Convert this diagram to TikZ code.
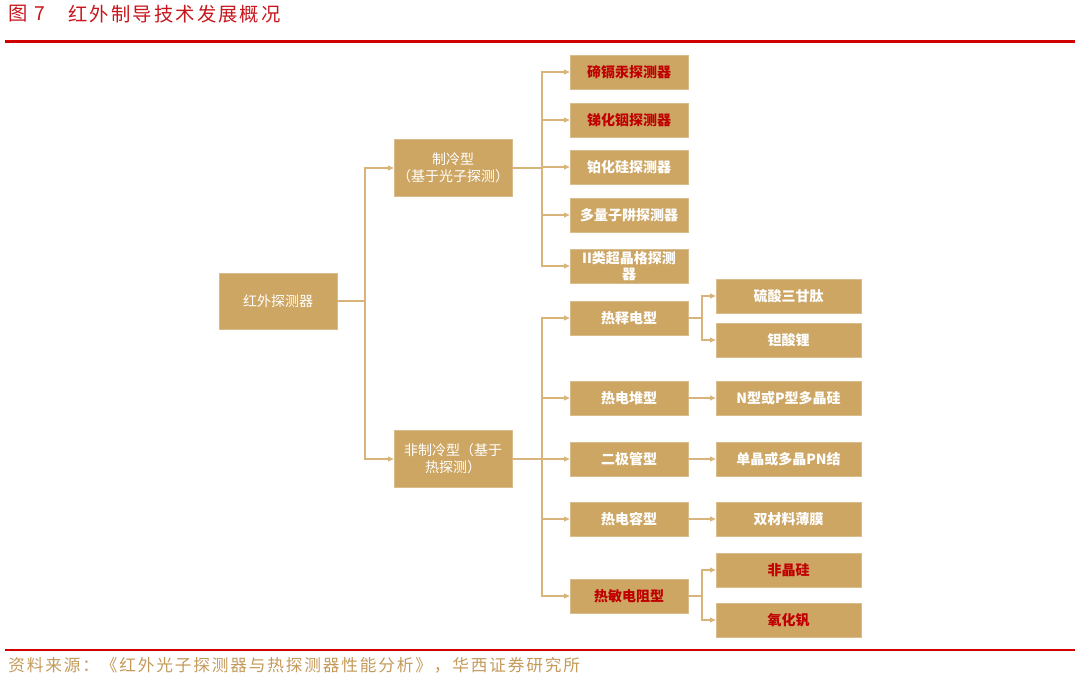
\documentclass[tikz,border=0pt]{standalone}
\usepackage{fontspec}
\setmainfont{Noto Sans CJK SC}
\newfontfamily\spacedfont[LetterSpace=11]{Noto Sans CJK SC}
\usetikzlibrary{arrows.meta}
\definecolor{boxc}{RGB}{205,166,100}
\definecolor{linec}{RGB}{216,180,122}
\definecolor{redt}{RGB}{192,0,0}
\definecolor{titler}{RGB}{200,22,29}
\definecolor{ruler}{RGB}{208,0,0}
\definecolor{srcc}{RGB}{196,154,90}
\begin{document}
\begin{tikzpicture}[x=0.75pt,y=-0.75pt,
  box/.style={fill=boxc, draw=boxc!75!white, line width=0.4pt, text=white,
    font=\fontsize{10.5}{13}\selectfont, align=center, inner sep=0pt},
  boxb/.style={box, font=\fontsize{10.5}{13}\selectfont\bfseries},
  colb/.style={box, minimum width=88.5pt, minimum height=42.75pt},
  colc/.style={boxb, minimum width=88.5pt, minimum height=25.5pt},
  cold/.style={boxb, minimum width=108.75pt, minimum height=25.5pt},
  redtext/.style={text=redt},
  arr/.style={draw=linec, line width=0.9pt, -{Triangle[length=4.2pt,width=3.6pt]}},
  ln/.style={draw=linec, line width=0.9pt}
]
\useasboundingbox (0,0) rectangle (1080,679);
% title
\node[anchor=west, text=titler, font=\spacedfont\fontsize{14.5}{16}\selectfont, inner sep=0pt] (fig) at (8,14) {图 7};
\node[anchor=west, text=titler, font=\spacedfont\fontsize{14.5}{16}\selectfont, inner sep=0pt] (title) at (68,14) {红外制导技术发展概况};
\draw[ruler, line width=2.25pt] (5,41) -- (1075,41);
% nodes
\node[box, minimum width=88.5pt, minimum height=42pt] (root) at (278,301) {红外探测器};
\node[colb] (cool) at (453,168) {制冷型\\（基于光子探测）};
\node[colb] (uncool) at (453,459) {非制冷型（基于\\热探测）};
\node[colc, redtext] (a1) at (629,72) {碲镉汞探测器};
\node[colc, redtext] (a2) at (629,120) {锑化铟探测器};
\node[colc] (a3) at (629,167) {铂化硅探测器};
\node[colc] (a4) at (629,215) {多量子阱探测器};
\node[colc, font=\fontsize{10.5}{12}\selectfont\bfseries] (a5) at (629,266) {II类超晶格探测\\器};
\node[colc] (b1) at (629,318) {热释电型};
\node[colc] (b2) at (629,398) {热电堆型};
\node[colc] (b3) at (629,459) {二极管型};
\node[colc] (b4) at (629,519) {热电容型};
\node[colc, redtext] (b5) at (629,596) {热敏电阻型};
\node[cold] (c1) at (788.5,296) {硫酸三甘肽};
\node[cold] (c2) at (788.5,340) {钽酸锂};
\node[cold] (c3) at (788.5,398) {N型或P型多晶硅};
\node[cold] (c4) at (788.5,459) {单晶或多晶PN结};
\node[cold] (c5) at (788.5,519) {双材料薄膜};
\node[cold, redtext] (c6) at (788.5,570) {非晶硅};
\node[cold, redtext] (c7) at (788.5,620) {氧化钒};
% branch points
\coordinate (r1) at (365,301);
\coordinate (k1) at (542,168);
\coordinate (k2) at (542,459);
\coordinate (p1) at (702,318);
\coordinate (p2) at (702,596);
% connectors
\draw[ln] (root.east) -- (r1);
\draw[arr] (r1) |- (cool.west);
\draw[arr] (r1) |- (uncool.west);
\draw[ln] (cool.east) -- (k1);
\foreach \n in {a1,a2,a3,a4,a5} \draw[arr] (k1) |- (\n.west);
\draw[ln] (uncool.east) -- (k2);
\foreach \n in {b1,b2,b3,b4,b5} \draw[arr] (k2) |- (\n.west);
\draw[ln] (b1.east) -- (p1);
\draw[arr] (p1) |- (c1.west);
\draw[arr] (p1) |- (c2.west);
\draw[arr] (b2.east) -- (c3.west);
\draw[arr] (b3.east) -- (c4.west);
\draw[arr] (b4.east) -- (c5.west);
\draw[ln] (b5.east) -- (p2);
\draw[arr] (p2) |- (c6.west);
\draw[arr] (p2) |- (c7.west);
% footer
\draw[ruler, line width=1.8pt] (5,650) -- (1075,650);
\node[anchor=west, text=srcc, font=\spacedfont\fontsize{12.5}{14}\selectfont, inner sep=0pt] (src) at (8,665) {资料来源：《红外光子探测器与热探测器性能分析》，华西证券研究所};
\end{tikzpicture}
\end{document}
